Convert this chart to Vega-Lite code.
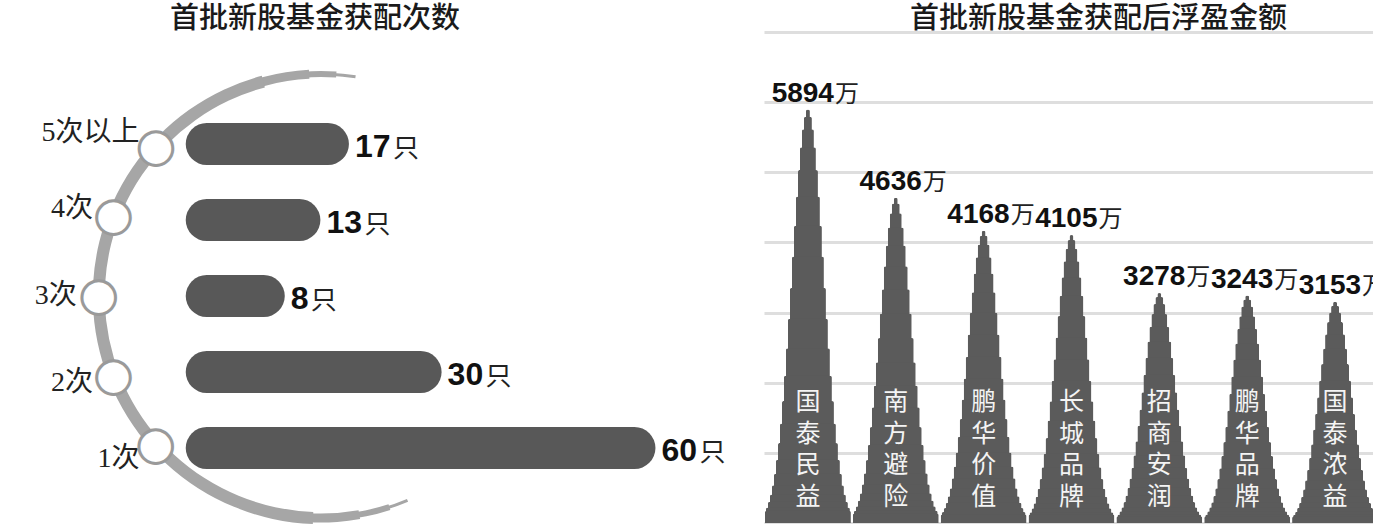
{
  "$schema": "https://vega.github.io/schema/vega-lite/v6.json",
  "background": "white",
  "padding": {"left": 0, "right": 0, "top": 5, "bottom": 0},
  "spacing": 38,
  "config": {
    "view": {"stroke": null},
    "title": {"fontSize": 29, "font": "Noto Sans CJK SC", "fontWeight": 500, "color": "#1a1a1a", "anchor": "middle", "offset": -2}
  },
  "hconcat": [
    {
      "width": 720,
      "height": 456,
      "title": {"text": "首批新股基金获配次数", "dx": -45},
      "data": {"values": [
        {"level": "5次以上", "count": 17},
        {"level": "4次", "count": 13},
        {"level": "3次", "count": 8},
        {"level": "2次", "count": 30},
        {"level": "1次", "count": 60}
      ]},
      "layer": [
        {
          "mark": {"type": "rule", "strokeWidth": 42, "strokeCap": "round", "color": "#585858"},
          "encoding": {
            "y": {"field": "level", "type": "ordinal", "axis": null,
                  "scale": {"type": "point", "domain": ["5次以上", "4次", "3次", "2次", "1次"], "padding": 1, "align": 0.737}},
            "x": {"field": "count", "type": "quantitative", "axis": null, "scale": {"domain": [-29, 72], "nice": false}},
            "x2": {"datum": 0}
          }
        },
        {
          "data": {"values": [{}]},
          "mark": {"type": "arc", "theta": 2.7402, "theta2": 6.4403, "radius": 220.5, "radius2": 223.5, "color": "#a6a6a6"},
          "encoding": {"x": {"datum": 16, "type": "quantitative"}, "y": {"datum": "3次", "type": "ordinal"}}
        },
        {
          "data": {"values": [{}]},
          "mark": {"type": "arc", "theta": 2.8274, "theta2": 6.3530, "radius": 219, "radius2": 225, "color": "#a6a6a6"},
          "encoding": {"x": {"datum": 16, "type": "quantitative"}, "y": {"datum": "3次", "type": "ordinal"}}
        },
        {
          "data": {"values": [{}]},
          "mark": {"type": "arc", "theta": 2.9671, "theta2": 6.2308, "radius": 217.5, "radius2": 226.5, "color": "#a6a6a6"},
          "encoding": {"x": {"datum": 16, "type": "quantitative"}, "y": {"datum": "3次", "type": "ordinal"}}
        },
        {
          "data": {"values": [{}]},
          "mark": {"type": "arc", "theta": 3.1765, "theta2": 6.0214, "radius": 216, "radius2": 228, "color": "#a6a6a6"},
          "encoding": {"x": {"datum": 16, "type": "quantitative"}, "y": {"datum": "3次", "type": "ordinal"}}
        },
        {
          "mark": {"type": "text", "text": "●", "radius": 222, "font": "DejaVu Sans", "fontSize": 44, "fill": "white", "stroke": "#9a9a9a", "strokeWidth": 3, "align": "center", "baseline": "middle"},
          "encoding": {
            "x": {"datum": 16, "type": "quantitative"},
            "y": {"datum": "3次", "type": "ordinal"},
            "theta": {"aggregate": "count", "type": "quantitative", "stack": true, "scale": {"range": [3.796, 5.629]}},
            "detail": {"field": "level"}
          }
        },
        {
          "mark": {"type": "text", "radius": 244, "font": "Liberation Serif, Noto Sans CJK SC", "fontSize": 28, "color": "#222222", "align": "right", "baseline": "middle"},
          "encoding": {
            "x": {"datum": 16, "type": "quantitative"},
            "y": {"datum": "3次", "type": "ordinal"},
            "theta": {"aggregate": "count", "type": "quantitative", "stack": true},
            "text": {"field": "level"}
          }
        },
        {
          "mark": {"type": "text", "font": "Liberation Sans", "fontWeight": "bold", "fontSize": 32, "align": "left", "baseline": "alphabetic", "dx": 27, "dy": 13, "color": "#111111"},
          "encoding": {
            "x": {"field": "count", "type": "quantitative"},
            "y": {"field": "level", "type": "ordinal"},
            "text": {"field": "count", "type": "quantitative", "format": "d"}
          }
        },
        {
          "transform": [{"filter": "datum.count >= 10"}],
          "mark": {"type": "text", "text": "只", "font": "Noto Sans CJK SC", "fontSize": 26, "align": "left", "baseline": "alphabetic", "dx": 65, "dy": 13, "color": "#222222"},
          "encoding": {"x": {"field": "count", "type": "quantitative"}, "y": {"field": "level", "type": "ordinal"}}
        },
        {
          "transform": [{"filter": "datum.count < 10"}],
          "mark": {"type": "text", "text": "只", "font": "Noto Sans CJK SC", "fontSize": 26, "align": "left", "baseline": "alphabetic", "dx": 47, "dy": 13, "color": "#222222"},
          "encoding": {"x": {"field": "count", "type": "quantitative"}, "y": {"field": "level", "type": "ordinal"}}
        }
      ]
    },
    {
      "width": 615,
      "height": 491,
      "title": {"text": "首批新股基金获配后浮盈金额", "dx": 27},
      "data": {"values": [
        {"fund": "国泰民益", "profit": 5894},
        {"fund": "南方避险", "profit": 4636},
        {"fund": "鹏华价值", "profit": 4168},
        {"fund": "长城品牌", "profit": 4105},
        {"fund": "招商安润", "profit": 3278},
        {"fund": "鹏华品牌", "profit": 3243},
        {"fund": "国泰浓益", "profit": 3153}
      ]},
      "encoding": {
        "x": {"field": "fund", "type": "nominal", "sort": null, "axis": null, "scale": {"paddingInner": 0, "paddingOuter": 0}}
      },
      "layer": [
        {"mark": {"type": "bar", "width": 4, "cornerRadiusTopLeft": 2, "cornerRadiusTopRight": 2, "color": "#5b5b5b"},
         "encoding": {"y": {"field": "profit", "type": "quantitative", "scale": {"domain": [0, 7000]},
           "axis": {"values": [0, 1000, 2000, 3000, 4000, 5000, 6000, 7000], "grid": true, "labels": false, "ticks": false, "domain": false, "title": null, "gridColor": "#dedede", "gridWidth": 3}}}},
        {"mark": {"type": "bar", "width": 8, "cornerRadiusTopLeft": 2, "cornerRadiusTopRight": 2, "color": "#5b5b5b"},
         "encoding": {"y": {"field": "profit", "type": "quantitative", "scale": {"domain": [0, 7124]}, "axis": null}}},
        {"mark": {"type": "bar", "width": 12, "cornerRadiusTopLeft": 2, "cornerRadiusTopRight": 2, "color": "#5b5b5b"},
         "encoding": {"y": {"field": "profit", "type": "quantitative", "scale": {"domain": [0, 7351]}, "axis": null}}},
        {"mark": {"type": "bar", "width": 16, "cornerRadiusTopLeft": 2, "cornerRadiusTopRight": 2, "color": "#5b5b5b"},
         "encoding": {"y": {"field": "profit", "type": "quantitative", "scale": {"domain": [0, 7703]}, "axis": null}}},
        {"mark": {"type": "bar", "width": 20, "cornerRadiusTopLeft": 2, "cornerRadiusTopRight": 2, "color": "#5b5b5b"},
         "encoding": {"y": {"field": "profit", "type": "quantitative", "scale": {"domain": [0, 8200]}, "axis": null}}},
        {"mark": {"type": "bar", "width": 24, "cornerRadiusTopLeft": 2, "cornerRadiusTopRight": 2, "color": "#5b5b5b"},
         "encoding": {"y": {"field": "profit", "type": "quantitative", "scale": {"domain": [0, 8866]}, "axis": null}}},
        {"mark": {"type": "bar", "width": 28, "cornerRadiusTopLeft": 2, "cornerRadiusTopRight": 2, "color": "#5b5b5b"},
         "encoding": {"y": {"field": "profit", "type": "quantitative", "scale": {"domain": [0, 9737]}, "axis": null}}},
        {"mark": {"type": "bar", "width": 32, "cornerRadiusTopLeft": 2, "cornerRadiusTopRight": 2, "color": "#5b5b5b"},
         "encoding": {"y": {"field": "profit", "type": "quantitative", "scale": {"domain": [0, 10863]}, "axis": null}}},
        {"mark": {"type": "bar", "width": 36, "cornerRadiusTopLeft": 2, "cornerRadiusTopRight": 2, "color": "#5b5b5b"},
         "encoding": {"y": {"field": "profit", "type": "quantitative", "scale": {"domain": [0, 12309]}, "axis": null}}},
        {"mark": {"type": "bar", "width": 40, "cornerRadiusTopLeft": 2, "cornerRadiusTopRight": 2, "color": "#5b5b5b"},
         "encoding": {"y": {"field": "profit", "type": "quantitative", "scale": {"domain": [0, 14167]}, "axis": null}}},
        {"mark": {"type": "bar", "width": 44, "cornerRadiusTopLeft": 2, "cornerRadiusTopRight": 2, "color": "#5b5b5b"},
         "encoding": {"y": {"field": "profit", "type": "quantitative", "scale": {"domain": [0, 16564]}, "axis": null}}},
        {"mark": {"type": "bar", "width": 48, "cornerRadiusTopLeft": 2, "cornerRadiusTopRight": 2, "color": "#5b5b5b"},
         "encoding": {"y": {"field": "profit", "type": "quantitative", "scale": {"domain": [0, 19668]}, "axis": null}}},
        {"mark": {"type": "bar", "width": 52, "cornerRadiusTopLeft": 2, "cornerRadiusTopRight": 2, "color": "#5b5b5b"},
         "encoding": {"y": {"field": "profit", "type": "quantitative", "scale": {"domain": [0, 23729]}, "axis": null}}},
        {"mark": {"type": "bar", "width": 56, "cornerRadiusTopLeft": 2, "cornerRadiusTopRight": 2, "color": "#5b5b5b"},
         "encoding": {"y": {"field": "profit", "type": "quantitative", "scale": {"domain": [0, 29070]}, "axis": null}}},
        {"mark": {"type": "bar", "width": 60, "cornerRadiusTopLeft": 2, "cornerRadiusTopRight": 2, "color": "#5b5b5b"},
         "encoding": {"y": {"field": "profit", "type": "quantitative", "scale": {"domain": [0, 36176]}, "axis": null}}},
        {"mark": {"type": "bar", "width": 64, "cornerRadiusTopLeft": 2, "cornerRadiusTopRight": 2, "color": "#5b5b5b"},
         "encoding": {"y": {"field": "profit", "type": "quantitative", "scale": {"domain": [0, 45752]}, "axis": null}}},
        {"mark": {"type": "bar", "width": 68, "cornerRadiusTopLeft": 2, "cornerRadiusTopRight": 2, "color": "#5b5b5b"},
         "encoding": {"y": {"field": "profit", "type": "quantitative", "scale": {"domain": [0, 58725]}, "axis": null}}},
        {"mark": {"type": "bar", "width": 72, "cornerRadiusTopLeft": 2, "cornerRadiusTopRight": 2, "color": "#5b5b5b"},
         "encoding": {"y": {"field": "profit", "type": "quantitative", "scale": {"domain": [0, 76586]}, "axis": null}}},
        {"mark": {"type": "bar", "width": 76, "cornerRadiusTopLeft": 2, "cornerRadiusTopRight": 2, "color": "#5b5b5b"},
         "encoding": {"y": {"field": "profit", "type": "quantitative", "scale": {"domain": [0, 101449]}, "axis": null}}},
        {"mark": {"type": "bar", "width": 80, "cornerRadiusTopLeft": 2, "cornerRadiusTopRight": 2, "color": "#5b5b5b"},
         "encoding": {"y": {"field": "profit", "type": "quantitative", "scale": {"domain": [0, 136452]}, "axis": null}}},
        {"mark": {"type": "bar", "width": 84, "cornerRadiusTopLeft": 2, "cornerRadiusTopRight": 2, "color": "#5b5b5b"},
         "encoding": {"y": {"field": "profit", "type": "quantitative", "scale": {"domain": [0, 186667]}, "axis": null}}},
        {"mark": {"type": "bar", "width": 86, "cornerRadiusTopLeft": 2, "cornerRadiusTopRight": 2, "color": "#5b5b5b"},
         "encoding": {"y": {"field": "profit", "type": "quantitative", "scale": {"domain": [0, 238095]}, "axis": null}}},
        {"mark": {"type": "text", "clip": true, "font": "Liberation Sans", "fontWeight": "bold", "fontSize": 28, "align": "right", "baseline": "alphabetic", "dx": 26, "dy": -8, "color": "#111111"},
         "encoding": {"y": {"field": "profit", "type": "quantitative", "scale": {"domain": [0, 7000]}, "axis": null},
                      "text": {"field": "profit", "type": "quantitative", "format": "d"}}},
        {"mark": {"type": "text", "clip": true, "text": "万", "font": "Noto Sans CJK SC", "fontSize": 24, "align": "left", "baseline": "alphabetic", "dx": 27, "dy": -8, "color": "#222222"},
         "encoding": {"y": {"field": "profit", "type": "quantitative", "scale": {"domain": [0, 7000]}, "axis": null}}},
        {"mark": {"type": "text", "text": {"expr": "split(datum.fund, '')"}, "font": "Noto Sans CJK SC", "fontSize": 25, "lineHeight": 31.5, "align": "center", "baseline": "bottom", "dy": -108, "color": "#f4f4f4"},
         "encoding": {"y": {"datum": 0, "type": "quantitative", "scale": {"domain": [0, 7000]}, "axis": null}}}
      ],
      "resolve": {"scale": {"y": "independent"}}
    }
  ]
}
